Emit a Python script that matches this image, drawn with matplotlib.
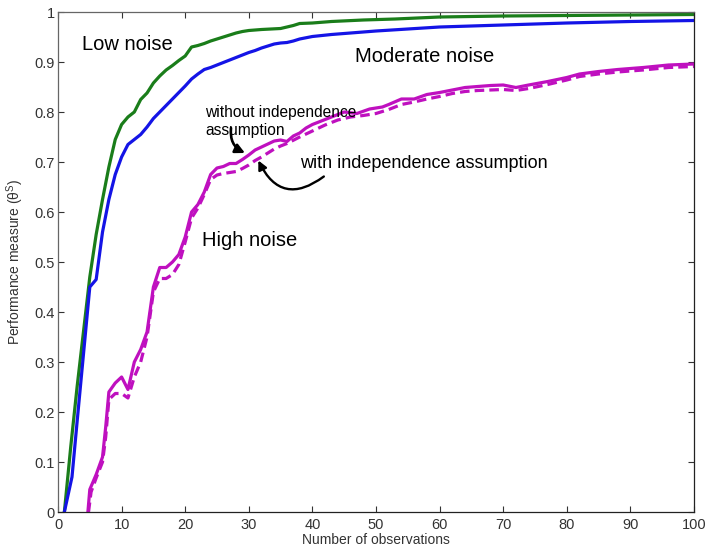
import matplotlib
matplotlib.use("Agg")
import matplotlib.pyplot as plt

plt.rcParams["font.family"] = ["Liberation Sans", "DejaVu Sans"]
plt.rcParams["mathtext.fontset"] = "custom"
plt.rcParams["mathtext.rm"] = "Liberation Sans"
plt.rcParams["mathtext.it"] = "Liberation Sans:italic"

# --- data ---
low_x = [1, 2, 3, 4, 5, 6, 7, 8, 9, 10, 11, 12, 13, 14, 15, 16, 17, 18, 19, 20,
         21, 22, 23, 24, 25, 26, 27, 28, 29, 30, 32, 35, 37, 38, 40, 43, 48, 53,
         60, 70, 80, 90, 100]
low_y = [0.0, 0.13, 0.25, 0.36, 0.47, 0.555, 0.625, 0.69, 0.745, 0.775, 0.79,
         0.80, 0.825, 0.838, 0.858, 0.872, 0.884, 0.893, 0.903, 0.912, 0.93,
         0.933, 0.937, 0.942, 0.946, 0.950, 0.954, 0.958, 0.961, 0.963, 0.965,
         0.967, 0.973, 0.977, 0.978, 0.981, 0.984, 0.986, 0.990, 0.992, 0.993,
         0.994, 0.995]

mod_x = [1, 2.2, 3, 4, 5, 6, 7, 8, 9, 10, 11, 12, 13, 14, 15, 16, 17, 18, 19, 20,
         21, 22, 23, 24, 25, 26, 27, 28, 29, 30, 31, 32, 33, 34, 35, 36, 37, 38,
         40, 43, 46, 50, 55, 60, 65, 70, 75, 80, 90, 100]
mod_y = [0.0, 0.07, 0.18, 0.315, 0.45, 0.465, 0.56, 0.625, 0.675, 0.71, 0.735,
         0.745, 0.755, 0.77, 0.787, 0.80, 0.813, 0.826, 0.839, 0.852, 0.866,
         0.876, 0.885, 0.889, 0.894, 0.899, 0.904, 0.909, 0.914, 0.919, 0.923,
         0.928, 0.932, 0.936, 0.938, 0.939, 0.942, 0.946, 0.951, 0.955, 0.958,
         0.962, 0.966, 0.970, 0.972, 0.974, 0.976, 0.978, 0.981, 0.983]

high_x = [4.7, 5, 6, 7, 7.5, 8, 9, 10, 11, 12, 13, 14, 15, 16, 17, 18, 19, 20,
          21, 22, 23, 24, 25, 26, 27, 28, 29, 30, 31, 32, 33, 34, 35, 36, 37, 38,
          39, 40, 42, 44, 45, 47, 49, 51, 52, 54, 56, 58, 60, 62, 64, 66, 68, 70,
          72, 74, 77, 80, 82, 85, 88, 92, 96, 100]
high_y = [0.0, 0.045, 0.075, 0.11, 0.17, 0.24, 0.258, 0.27, 0.245, 0.30, 0.325,
          0.36, 0.45, 0.489, 0.489, 0.50, 0.515, 0.55, 0.60, 0.615, 0.64, 0.675,
          0.688, 0.691, 0.697, 0.697, 0.705, 0.714, 0.724, 0.73, 0.736, 0.742,
          0.744, 0.741, 0.752, 0.758, 0.768, 0.775, 0.785, 0.795, 0.800, 0.797,
          0.806, 0.810, 0.815, 0.826, 0.826, 0.835, 0.839, 0.844, 0.849, 0.851,
          0.853, 0.854, 0.849, 0.854, 0.861, 0.869, 0.876, 0.881, 0.885, 0.889,
          0.894, 0.896]

high_ind_x = [4.8, 5.2, 6, 7, 7.5, 8, 9, 10, 11, 12, 13, 14, 15, 16, 17, 18, 19,
              20, 21, 22, 23, 24, 25, 26, 27, 28, 29, 30, 31, 32, 33, 34, 35, 36,
              38, 40, 42, 44, 46, 48, 50, 52, 54, 56, 58, 60, 62, 64, 66, 68, 70,
              72, 74, 77, 80, 82, 85, 88, 92, 96, 100]
high_ind_y = [0.0, 0.04, 0.068, 0.10, 0.15, 0.225, 0.237, 0.237, 0.228, 0.27,
              0.30, 0.35, 0.44, 0.467, 0.467, 0.475, 0.495, 0.54, 0.588, 0.608,
              0.635, 0.665, 0.674, 0.677, 0.679, 0.681, 0.687, 0.694, 0.703,
              0.710, 0.718, 0.726, 0.732, 0.737, 0.75, 0.762, 0.774, 0.784,
              0.790, 0.793, 0.797, 0.805, 0.815, 0.820, 0.826, 0.831, 0.837,
              0.841, 0.843, 0.844, 0.845, 0.843, 0.847, 0.855, 0.864, 0.871,
              0.876, 0.880, 0.884, 0.889, 0.891]

x_ticks = [0, 10, 20, 30, 40, 50, 60, 70, 80, 90, 100]
y_ticks = [0, 0.1, 0.2, 0.3, 0.4, 0.5, 0.6, 0.7, 0.8, 0.9, 1]
y_tick_labels = ["0", "0.1", "0.2", "0.3", "0.4", "0.5", "0.6", "0.7", "0.8", "0.9", "1"]

GREEN = "#1a7d1a"
BLUE = "#1414e6"
MAGENTA = "#bf10bf"

fig = plt.figure(figsize=(7.06, 5.52), dpi=100)
ax = fig.add_axes([58 / 706, 40 / 552, 636 / 706, 500 / 552])

lw = 2.3
ax.plot(low_x, low_y, color=GREEN, linewidth=lw)
ax.plot(mod_x, mod_y, color=BLUE, linewidth=lw)
ax.plot(high_x, high_y, color=MAGENTA, linewidth=lw)
ax.plot(high_ind_x, high_ind_y, color=MAGENTA, linewidth=lw, linestyle=(0, (3, 1.6)))

ax.set_xlim(0, 100)
ax.set_ylim(0, 1)
ax.set_xticks(x_ticks)
ax.set_yticks(y_ticks)
ax.set_yticklabels(y_tick_labels)
ax.tick_params(direction="in", top=True, right=True, length=4, width=0.8,
               labelsize=10.5, labelcolor="#333333", color="#333333")
ax.tick_params(axis="x", pad=4)
ax.tick_params(axis="y", pad=2.5)
for side in ["bottom", "right"]:
    ax.spines[side].set_color("#222222")
for side in ["left", "top"]:
    ax.spines[side].set_color("#666666")
for sp in ax.spines.values():
    sp.set_linewidth(0.9)

ax.set_xlabel("Number of observations", fontsize=10, color="#333333", labelpad=1)
ax.set_ylabel(r"Performance measure (θ$^{\mathrm{S}}$)", fontsize=10,
              color="#333333", labelpad=6)

# curve labels
ax.text(3.8, 0.934, "Low noise", fontsize=14.5, va="center", ha="left")
ax.text(46.7, 0.91, "Moderate noise", fontsize=14.5, va="center", ha="left")
ax.text(22.6, 0.544, "High noise", fontsize=14.5, va="center", ha="left")
ax.text(23.1, 0.80, "without independence", fontsize=11.2, va="center", ha="left")
ax.text(23.1, 0.764, "assumption", fontsize=11.2, va="center", ha="left")
ax.text(38.0, 0.698, "with independence assumption", fontsize=13, va="center", ha="left")

# arrows
ax.annotate("", xy=(29.4, 0.718), xytext=(27.2, 0.768),
            arrowprops=dict(arrowstyle="-|>", color="black", lw=1.9,
                            mutation_scale=14, shrinkA=0, shrinkB=0,
                            connectionstyle="arc3,rad=0.35"))
ax.annotate("", xy=(31.5, 0.703), xytext=(41.8, 0.671),
            arrowprops=dict(arrowstyle="-|>", color="black", lw=1.7,
                            mutation_scale=13, shrinkA=0, shrinkB=0,
                            connectionstyle="arc3,rad=-0.6"))

fig.savefig("out.png", dpi=100)
